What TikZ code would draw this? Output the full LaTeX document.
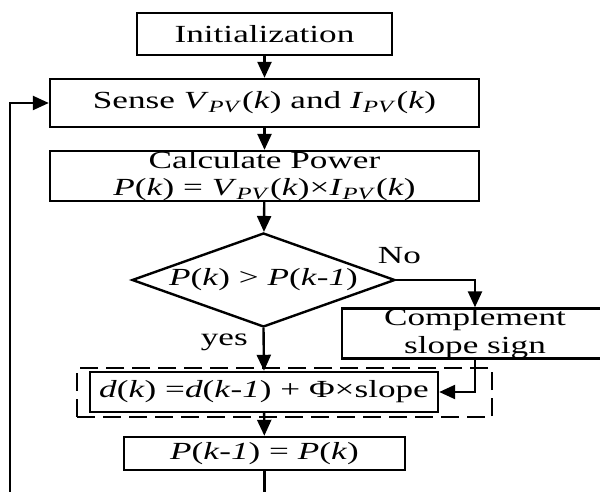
\documentclass[tikz,border=0pt]{standalone}
\usepackage{fontspec}
\setmainfont{Liberation Serif}[FakeStretch=1.43]
\usetikzlibrary{arrows.meta,positioning,shapes.geometric}

\newcommand{\pv}[1]{\textit{#1}\textsubscript{\textit{PV}}(\textit{k})}

\begin{document}
\begin{tikzpicture}[x=0.5pt, y=-0.5pt,
    font=\fontsize{12.3}{13.8}\selectfont,
    box/.style={draw, line width=1.2pt, inner sep=0pt, align=center},
    decision/.style={draw, diamond, line width=1.2pt, inner sep=0pt, aspect=2.8},
    arr/.style={line width=1.2pt, -{Triangle[length=8pt,width=7pt]}},
    dashframe/.style={draw, line width=1.3pt, dash pattern=on 9pt off 4pt, inner sep=0pt}]
    \useasboundingbox (0,0) rectangle (600,492);
    \clip (0,0) rectangle (600,492);
    % main column
    \node[box, minimum width=127.5pt, minimum height=21pt] (init) at (264.5,34) {Initialization};
    \node[box, minimum width=214.5pt, minimum height=24pt] (sense) at (264.5,103) {Sense \pv{V} and \pv{I}};
    \node[box, minimum width=214.5pt, minimum height=24pt] (calc) at (264.5,176)
        {Calculate Power\\\textit{P}(\textit{k}) = \pv{V}×\pv{I}};
    \node[decision, minimum width=131.5pt, minimum height=47pt] (check) at (263.5,280)
        {\textit{P}(\textit{k}) > \textit{P}(\textit{k}-\textit{1})};
    \node[box, minimum width=133pt, minimum height=23.5pt] (compl) at (475,333.5) {Complement\\slope sign};
    % dashed frame drawn under the update box
    \node[dashframe, minimum width=207.5pt, minimum height=24.5pt] (frame) at (284.5,392.5) {};
    \node[box, fill=white, minimum width=174pt, minimum height=20pt] (update) at (264,392)
        {\textit{d}(\textit{k}) =\textit{d}(\textit{k}-\textit{1}) + Φ×slope};
    \node[box, minimum width=140.5pt, minimum height=16.5pt] (store) at (264.5,453.5)
        {\textit{P}(\textit{k}-\textit{1}) = \textit{P}(\textit{k})};
    % connectors
    \draw[arr] (init) -- (sense);
    \draw[arr] (sense) -- (calc);
    \draw[arr] (calc) -- (check);
    \draw[arr] (check.south) -- node[pos=0.33, left=4pt]{yes} (update.north);
    \draw[arr] (check.east) -| node[pos=0.02, above=4pt]{No} (compl.north);
    \draw[arr] (compl.south) |- (update.east);
    \draw[arr] (update) -- (store);
    % loop back, leaving the picture at the bottom
    \coordinate (loopfoot) at (10,500);
    \draw[line width=1.2pt] (store.south) -- (store.south |- loopfoot);
    \draw[arr] (loopfoot) |- (sense.west);
\end{tikzpicture}
\end{document}
